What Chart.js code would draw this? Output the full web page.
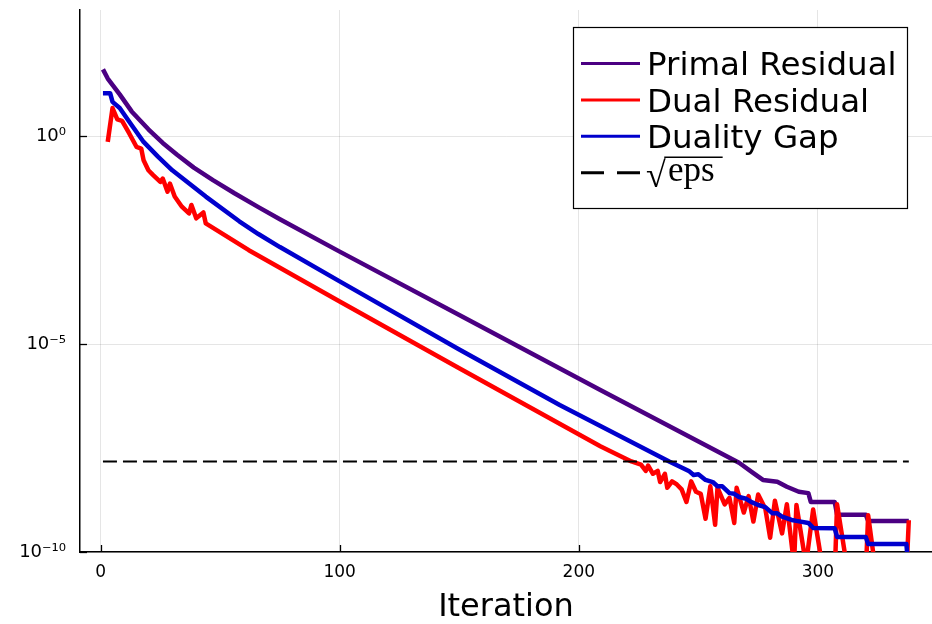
<!DOCTYPE html>
<html><head><meta charset="utf-8">
<script src="https://cdn.jsdelivr.net/npm/chart.js@4.4.1/dist/chart.umd.min.js"></script>
<style>html,body{margin:0;padding:0;background:#fff;}canvas{display:block;}</style>
</head><body>
<canvas id="c" width="932" height="624"></canvas>
<script>
// ---- data ----
const xTicks = [0, 100, 200, 300];
const yTicks = [1e-10, 1e-5, 1];
const yTickLabels = ['10⁻¹⁰', '10⁻⁵', '10⁰'];
const seriesNames = ['Primal Residual', 'Dual Residual', 'Duality Gap', '√eps'];
const xTitle = 'Iteration';

const primalIter = [1, 3, 8, 13, 20, 26, 32, 39, 47, 56, 66, 75, 100, 150, 209, 267, 273, 277, 283, 287, 292, 296, 297, 307, 308, 320, 321, 338];
const primalVal  = [40, 24, 10, 3.9, 1.45, 0.68, 0.355, 0.174, 0.087, 0.042, 0.0195, 0.010, 1.66e-3, 5.0e-5, 7.8e-7, 1.4e-8, 7.9e-9, 5.4e-9, 4.9e-9, 3.7e-9, 2.8e-9, 2.6e-9, 1.6e-9, 1.6e-9, 7.9e-10, 7.9e-10, 5.6e-10, 5.6e-10];

const dualIter = [3,5,7,9,12,15,17,18,20,22,25,26,28,29,31,34,37,38,40,43,44,62,100,150,209,216,222,226,228,229,231,233,234,236,237,239,241,243,245,247,249,251,253,255,257,258,261,263,265,266,269,271,273,275,278,280,282,285,287,290,291,295,298,302,307,308,312,320,321,324,337,338];
const dualVal  = [0.72,4.7,2.5,2.3,1.15,0.55,0.50,0.26,0.15,0.115,0.079,0.095,0.046,0.072,0.035,0.020,0.0138,0.022,0.0105,0.0145,0.0079,1.8e-3,1.05e-4,2.6e-6,3.5e-8,2.2e-8,1.5e-8,1.26e-8,8.9e-9,1.2e-8,7.6e-9,8.9e-9,4.8e-9,7.6e-9,3.5e-9,5.0e-9,4.2e-9,3.2e-9,1.6e-9,5.0e-9,2.8e-9,2.5e-9,6.3e-10,3.8e-9,4.5e-10,3.5e-9,1.4e-9,2.0e-9,5.0e-10,3.5e-9,8.9e-10,2.2e-9,5.4e-10,2.4e-9,1.1e-9,2.2e-10,1.7e-9,2.8e-10,1.4e-9,5e-11,1.35e-9,5e-11,1.05e-9,4e-11,2.5e-11,1.4e-9,5e-11,3e-11,7.6e-10,4e-11,3e-11,5.8e-10];

const gapIter = [1,4,5,8,12,18,24,30,44,58,66,75,100,150,192,238,246,248,250,253,256,258,260,263,265,267,270,272,275,278,281,283,285,289,291,296,298,307,308,320,321,337,338];
const gapVal  = [10.7,10.7,6.6,4.7,2.2,0.72,0.32,0.15,0.035,8.9e-3,4.4e-3,2.14e-3,3.2e-4,7.4e-6,3.4e-7,1.48e-8,8.9e-9,7.1e-9,7.4e-9,5.4e-9,4.8e-9,3.8e-9,3.8e-9,2.6e-9,2.5e-9,2.1e-9,1.9e-9,1.6e-9,1.35e-9,1.2e-9,8.5e-10,8.5e-10,7.1e-10,5.9e-10,5.6e-10,5.0e-10,3.8e-10,3.7e-10,2.3e-10,2.3e-10,1.55e-10,1.55e-10,3e-11];

const epsIter = [1, 338];
const epsVal  = [1.49e-8, 1.49e-8];

// ---- styles ----
const colors = ['#4B0082', '#FF0000', '#0000CD', '#000000'];
const FONT = 'DejaVu Sans';

function pts(xs, ys) { return xs.map((x, i) => ({ x: x, y: ys[i] })); }

const innerTicks = {
  id: 'innerTicks',
  beforeDatasetsDraw(chart) {
    const { ctx, chartArea: a, scales: { x, y } } = chart;
    ctx.save();
    ctx.strokeStyle = '#000';
    ctx.lineWidth = 1.3;
    x.ticks.forEach(t => {
      const px = Math.round(x.getPixelForValue(t.value)) + 0.5;
      ctx.beginPath(); ctx.moveTo(px, a.bottom); ctx.lineTo(px, a.bottom - 7); ctx.stroke();
    });
    y.ticks.forEach(t => {
      const py = Math.round(y.getPixelForValue(t.value)) + 0.5;
      ctx.beginPath(); ctx.moveTo(a.left, py); ctx.lineTo(a.left + 7, py); ctx.stroke();
    });
    ctx.restore();
  }
};

const legendBox = {
  id: 'legendBox',
  afterDraw(chart) {
    const { ctx, chartArea: a } = chart;
    const bw = 334, bh = 181;
    const bx = a.right - 25 - bw, by = a.top + 17;
    ctx.save();
    ctx.fillStyle = '#fff';
    ctx.fillRect(bx, by, bw, bh);
    ctx.strokeStyle = '#000';
    ctx.lineWidth = 1.2;
    ctx.strokeRect(bx + 0.5, by + 0.5, bw, bh);
    const ds = chart.data.datasets;
    for (let i = 0; i < ds.length; i++) {
      const ry = by + 36.5 + i * 36.4;
      ctx.beginPath();
      ctx.strokeStyle = ds[i].borderColor;
      ctx.lineWidth = 3;
      ctx.setLineDash(i === 3 ? [23, 13] : []);
      ctx.moveTo(bx + 8, ry); ctx.lineTo(bx + 67, ry);
      ctx.stroke();
      ctx.setLineDash([]);
      ctx.fillStyle = '#000';
      ctx.textBaseline = 'alphabetic';
      ctx.textAlign = 'left';
      if (i < 3) {
        ctx.font = '32.5px "' + FONT + '"';
        ctx.fillText(ds[i].label, bx + 74, ry + 11.7);
      } else {
        // radical sign + overlined "eps"
        ctx.font = '36px "Liberation Serif"';
        ctx.fillText('√', bx + 73, ry + 14);
        const rw = ctx.measureText('√').width;
        ctx.font = '35px "Liberation Serif"';
        ctx.fillText('eps', bx + 95, ry + 8);
        const ew = ctx.measureText('eps').width;
        ctx.beginPath();
        ctx.strokeStyle = '#000';
        ctx.lineWidth = 1.5;
        ctx.moveTo(bx + 73 + rw - 1.5, ry - 15.5);
        ctx.lineTo(bx + 95 + ew + 8, ry - 15.5);
        ctx.stroke();
      }
    }
    ctx.restore();
  }
};

const lineDs = (label, xs, ys, color, order) => ({
  label: label, data: pts(xs, ys), borderColor: color, backgroundColor: color,
  borderWidth: 4.5, pointRadius: 0, tension: 0, fill: false, clip: 0,
  borderJoinStyle: 'round', borderCapStyle: 'butt', order: order
});

new Chart(document.getElementById('c'), {
  type: 'line',
  data: {
    datasets: [
      lineDs(seriesNames[0], primalIter, primalVal, colors[0], 3),
      lineDs(seriesNames[1], dualIter, dualVal, colors[1], 2),
      lineDs(seriesNames[2], gapIter, gapVal, colors[2], 1),
      Object.assign(lineDs(seriesNames[3], epsIter, epsVal, colors[3], 0), { borderWidth: 2, borderDash: [14, 6] })
    ]
  },
  options: {
    responsive: false, animation: false, devicePixelRatio: 1,
    layout: { padding: { top: 10, right: 0, bottom: 0, left: 0 } },
    plugins: { legend: { display: false }, tooltip: { enabled: false } },
    scales: {
      x: {
        type: 'linear', min: -8.6, max: 347.7, bounds: 'data',
        afterBuildTicks: s => { s.ticks = xTicks.map(v => ({ value: v })); },
        afterFit: s => { s.height = 72; s.paddingLeft = 0; s.paddingRight = 0; },
        grid: { color: 'rgba(0,0,0,0.1)', lineWidth: 1, drawTicks: false },
        border: { display: true, color: '#000', width: 1.5 },
        ticks: { color: '#000', font: { family: FONT, size: 17 }, padding: 10, maxRotation: 0, autoSkip: false,
                 callback: (v, i) => String(xTicks[i]) },
        title: { display: true, text: xTitle, color: '#000', font: { family: FONT, size: 32, lineHeight: 1 }, padding: { top: 0, bottom: 0 } }
      },
      y: {
        type: 'logarithmic', min: 1e-10, max: 1069, bounds: 'data',
        afterBuildTicks: s => { s.ticks = yTicks.map(v => ({ value: v })); },
        afterFit: s => { s.width = 80; s.paddingTop = 0; s.paddingBottom = 0; },
        grid: { color: 'rgba(0,0,0,0.1)', lineWidth: 1, drawTicks: false },
        border: { display: true, color: '#000', width: 1.5 },
        ticks: { color: '#000', font: { family: FONT, size: 18 }, padding: 14, autoSkip: false,
                 callback: (v, i) => yTickLabels[i] }
      }
    }
  },
  plugins: [innerTicks, legendBox]
});
</script>
</body></html>
